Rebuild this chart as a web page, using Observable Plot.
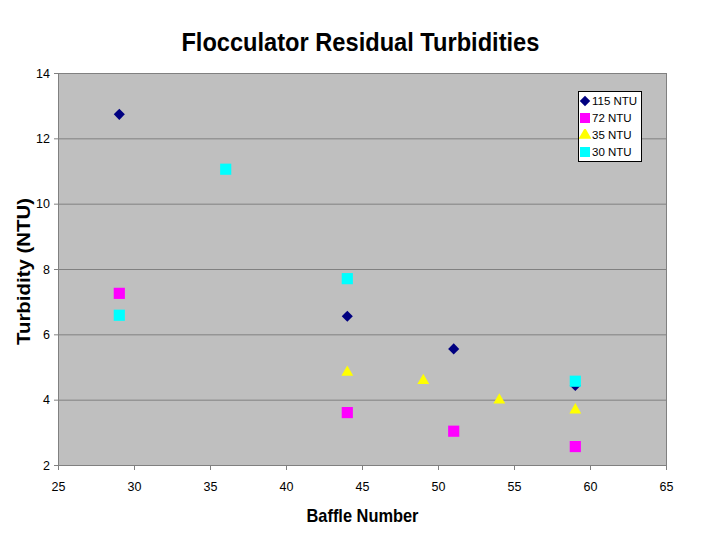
<!DOCTYPE html>
<html>
<head>
<meta charset="utf-8">
<script src="https://cdn.jsdelivr.net/npm/d3@7"></script>
<script src="https://cdn.jsdelivr.net/npm/@observablehq/plot@0.6"></script>
<style>
  html, body { margin: 0; padding: 0; background: #fff; }
  #wrap { position: relative; width: 720px; height: 540px; overflow: hidden; }
  #title { position: absolute; left: 0; top: 30px; width: 720px; text-align: center;
           font-family: "Liberation Sans", Arial, sans-serif; line-height: 25px;
           font-weight: bold; font-size: 25px; color: #000; }
  #title span { display: inline-block; transform: scaleX(0.945); transform-origin: 50% 50%; }
  #chart { position: absolute; left: 0; top: 60px; }
  #legend { position: absolute; left: 578px; top: 91px; width: 62px; height: 69px;
            background: #fff; border: 1px solid #000;
            font-family: "Liberation Sans", Arial, sans-serif; font-size: 11.5px; }
  .lrow { position: absolute; left: 0; width: 62px; height: 16px; line-height: 16px; white-space: nowrap; }
  .lrow svg { position: absolute; left: 0; top: 2px; }
  .lrow span { position: absolute; left: 13px; top: 0; }
</style>
</head>
<body>
<div id="wrap">
  <div id="title"><span>Flocculator Residual Turbidities</span></div>
  <div id="chart"></div>
  <div id="legend"></div>
</div>
<script>
const seriesNames = ["115 NTU", "72 NTU", "35 NTU", "30 NTU"];
const seriesColors = ["#000080", "#FF00FF", "#FFFF00", "#00FFFF"];
const seriesSymbols = ["diamond2", "square", "triangle", "square"];
const seriesRadius = [5, 6.3, 4.4, 6.3];

const x115 = [29, 44, 51, 59];
const y115 = [12.75, 6.57, 5.57, 4.45];
const x72 = [29, 44, 51, 59];
const y72 = [7.27, 3.62, 3.05, 2.58];
const x35 = [44, 49, 54, 59];
const y35 = [4.85, 4.6, 4.0, 3.7];
const x30 = [29, 36, 44, 59];
const y30 = [6.6, 11.07, 7.72, 4.58];

const xTicks = [25, 30, 35, 40, 45, 50, 55, 60, 65];
const yTicks = [2, 4, 6, 8, 10, 12, 14];

const xs = [x115, x72, x35, x30];
const ys = [y115, y72, y35, y30];
const data = [];
seriesNames.forEach((name, i) => {
  xs[i].forEach((xv, j) => data.push({series: name, x: xv, y: ys[i][j], idx: i}));
});

const font = "'Liberation Sans', Arial, sans-serif";

const plot = Plot.plot({
  width: 720,
  height: 480,
  marginLeft: 58,
  marginRight: 54,
  marginTop: 13,
  marginBottom: 75,
  style: { fontFamily: font, fontSize: "12.5px", color: "#000", background: "transparent" },
  x: { domain: [25, 65], ticks: xTicks, label: null },
  y: { domain: [2, 14], ticks: yTicks, label: null },
  marks: [
    Plot.frame({ fill: "#bfbfbf", stroke: "none" }),
    Plot.gridY(yTicks.slice(1, -1), { stroke: "#808080", strokeOpacity: 1, strokeWidth: 1 }),
    Plot.frame({ stroke: "#808080", strokeWidth: 1, fill: "none" }),
    Plot.axisX({ ticks: xTicks, tickSize: 5, tickPadding: 12, stroke: "#808080", fontSize: 12.5, tickFormat: d => d }),
    Plot.axisY({ ticks: yTicks, tickSize: 4, tickPadding: 4.5, stroke: "#808080", fontSize: 12.5, tickFormat: d => d }),
    ...seriesNames.map((name, i) => Plot.dot(data.filter(d => d.idx === i), {
      x: "x", y: "y",
      symbol: () => seriesSymbols[i],
      r: seriesRadius[i],
      fill: seriesColors[i],
      stroke: "none"
    })),
    Plot.text(["Baffle Number"], { frameAnchor: "bottom", dy: 50, lineAnchor: "middle", text: d => d, fontSize: 19, fontWeight: "bold", className: "xlabel" }),
    Plot.text(["Turbidity (NTU)"], { frameAnchor: "left", dx: -34, dy: 2, rotate: -90, textAnchor: "middle", lineAnchor: "middle", text: d => d, fontSize: 17.5, fontWeight: "bold", className: "ylabel" })
  ]
});
document.getElementById("chart").appendChild(plot);

// fit axis label widths to the reference lettering
d3.select(plot).selectAll(".xlabel text").attr("textLength", 112).attr("lengthAdjust", "spacingAndGlyphs");
d3.select(plot).selectAll(".ylabel text").attr("textLength", 147).attr("lengthAdjust", "spacingAndGlyphs");

// legend
const legend = document.getElementById("legend");
seriesNames.forEach((name, i) => {
  const row = document.createElement("div");
  row.className = "lrow";
  row.style.top = (1 + i * 17) + "px";
  const sym = d3.symbol().type(
    seriesSymbols[i] === "diamond2" ? d3.symbolDiamond2 :
    seriesSymbols[i] === "triangle" ? d3.symbolTriangle : d3.symbolSquare
  ).size(seriesSymbols[i] === "square" ? 100 : 70)();
  row.innerHTML = `<svg width="12" height="12"><path transform="translate(6,6)" d="${sym}" fill="${seriesColors[i]}"/></svg><span>${name}</span>`;
  legend.appendChild(row);
});
</script>
</body>
</html>
